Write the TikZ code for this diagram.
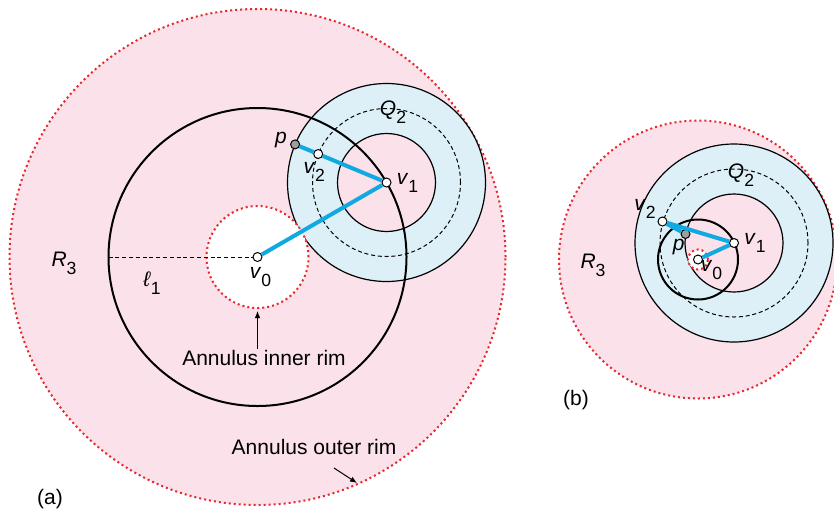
\documentclass[tikz,border=0pt]{standalone}
\usepackage{fontspec}
\setmainfont{Liberation Sans}
\usetikzlibrary{positioning, arrows.meta}
\usepackage{xcolor}

\definecolor{rimpink}{HTML}{FAE1EA}
\definecolor{ringblue}{HTML}{DDF0F7}
\definecolor{hopblue}{HTML}{10A9E2}
\definecolor{rimred}{HTML}{E8262C}

\newcommand{\lbl}[2]{\textit{#1}\raisebox{-4pt}{\fontsize{8.8}{10}\selectfont #2}}

\begin{document}
\begin{tikzpicture}[
    x=0.5pt, y=-0.5pt,
    font=\fontsize{10.5}{12}\selectfont,
    rim/.style={
        draw=rimred,
        line width=1pt,
        dash pattern=on 1pt off 1.5pt
    },
    ring/.style={
        draw=black,
        line width=0.6pt
    },
    guide/.style={
        line width=0.5pt,
        dash pattern=on 2pt off 1.4pt
    },
    reach/.style={
        draw=black,
        line width=1pt
    },
    hop/.style={
        hopblue,
        line width=2pt
    },
    pt/.style={
        circle,
        draw,
        fill=white,
        line width=0.5pt,
        inner sep=0pt,
        minimum size=4.5pt
    },
    farpt/.style={
        pt,
        fill=black!38
    },
    tag/.style={
        inner sep=0.5pt
    },
    arr/.style={
        -{Latex[length=3.5pt, width=2.8pt]},
        line width=0.5pt
    }
]

\useasboundingbox (0,0) rectangle (834,515);
\clip (0,0) rectangle (834,515);

% Centres, panel (a)
\coordinate (c0a) at (257.5,257);
\coordinate (c1a) at (386.5,182.5);
\coordinate (l1a) at (108.5,257);

% Outer annulus
\fill[rimpink] (c0a) circle[radius=124pt];
\draw[rim] (c0a) circle[radius=124pt];

% Q2 ring around v1
\filldraw[fill=ringblue, ring] (c1a) circle[radius=49.5pt];
\filldraw[fill=rimpink, ring] (c1a) circle[radius=24.5pt];
\draw[guide] (c1a) circle[radius=37pt];

% Inner rim
\fill[white] (c0a) circle[radius=25.5pt];
\draw[rim] (c0a) circle[radius=25.5pt];

% l1 circle
\draw[reach] (c0a) circle[radius=74.5pt];

% Points
\node[pt] (v0a) at (c0a) {};
\node[pt] (v1a) at (c1a) {};
\node[pt] (v2a) at (318.2,154) {};
\node[farpt] (pa) at (295.1,144.4) {};

\draw[guide] (l1a) -- (v0a);
\draw[hop] (v0a) -- (v1a);
\draw[hop] (v1a) -- (v2a);
\draw[hop] (v2a) -- (pa);

% Labels
\node[tag, right=2pt of v1a] {\lbl{v}{1}};
\node[tag, below=1pt of v2a, xshift=-2pt] {\lbl{v}{2}};
\node[tag, left=1pt of pa, yshift=2pt] {\textit{p}};
\node[tag, below=2pt of v0a, xshift=1.5pt] {\lbl{v}{0}};
\node[tag] at (393,112) {\lbl{Q}{2}};
\node[tag] at (64,263) {\lbl{R}{3}};
\node[tag] at (152,283) {\lbl{ℓ}{1}};
\node[tag] at (50,499) {(a)};

% Rim callouts
\coordinate (rimin) at (257.5,311);
\node[tag] (innerlbl) at (264,358) {Annulus inner rim};
\draw[arr] (innerlbl.north -| rimin) -- (rimin);

\coordinate (outtail) at (334,468);
\coordinate (outtip) at (357,483);
\node[tag] (outerlbl) at (314,447) {Annulus outer rim};
\draw[arr] (outtail) -- (outtip);

% Centres, panel (b)
\coordinate (c0b) at (698,259.5);
\coordinate (c1b) at (734,243);

\fill[rimpink] (c0b) circle[radius=69.5pt];
\draw[rim] (c0b) circle[radius=69.5pt];

\filldraw[fill=ringblue, ring] (c1b) circle[radius=49.5pt];
\filldraw[fill=rimpink, ring] (c1b) circle[radius=24.5pt];
\draw[guide] (c1b) circle[radius=37pt];

\draw[reach] (c0b) circle[radius=20pt];

\fill[white] (c0b) circle[radius=5pt];
\draw[rim] (c0b) circle[radius=5pt];

\node[pt] (v0b) at (c0b) {};
\node[pt] (v1b) at (c1b) {};
\node[pt] (v2b) at (662.5,221.5) {};
\node[farpt] (pb) at (685.5,234) {};

\draw[hop] (v0b) -- (v1b);
\draw[hop] (v1b) -- (v2b);
\draw[hop] (v2b) -- (pb);

\node[tag, right=2pt of v1b] {\lbl{v}{1}};
\node[tag, above left=-1pt and 1pt of v2b] {\lbl{v}{2}};
\node[tag, below left=0pt and -2pt of pb] {\textit{p}};
\node[tag, below right=-2pt and -1pt of v0b] {\lbl{v}{0}};
\node[tag] at (741,175) {\lbl{Q}{2}};
\node[tag] at (593,265) {\lbl{R}{3}};
\node[tag] at (576,400) {(b)};

\end{tikzpicture}
\end{document}
